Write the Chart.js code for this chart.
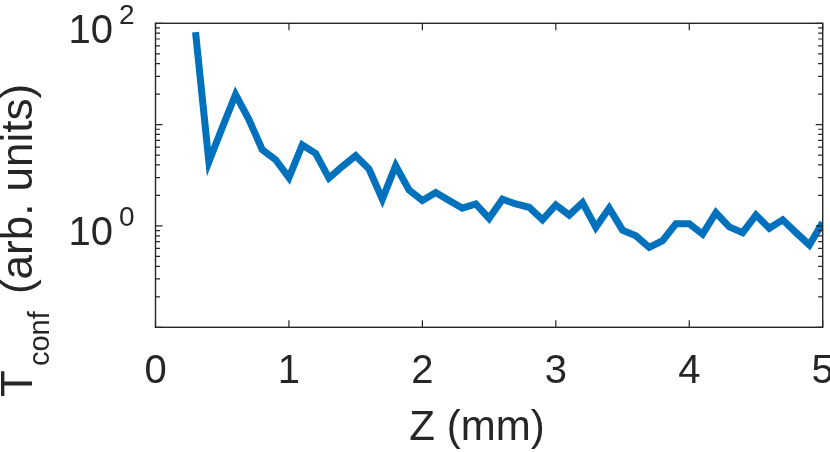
<!DOCTYPE html>
<html>
<head>
<meta charset="utf-8">
<script src="https://cdn.jsdelivr.net/npm/chart.js@4"></script>
<style>
  html, body { margin: 0; padding: 0; background: #fff; }
  #wrap { width: 830px; height: 452px; }
</style>
</head>
<body>
<div id="wrap"><canvas id="myChart" width="830" height="452"></canvas></div>
<script>
// Z positions (mm) and T_conf values
const zValues = [
  0.3, 0.4, 0.5, 0.6, 0.7, 0.8, 0.9, 1.0, 1.1, 1.2,
  1.3, 1.4, 1.5, 1.6, 1.7, 1.8, 1.9, 2.0, 2.1, 2.2,
  2.3, 2.4, 2.5, 2.6, 2.7, 2.8, 2.9, 3.0, 3.1, 3.2,
  3.3, 3.4, 3.5, 3.6, 3.7, 3.8, 3.9, 4.0, 4.1, 4.2,
  4.3, 4.4, 4.5, 4.6, 4.7, 4.8, 4.9, 5.0
];
const tconf = [
  82, 4.3, 9.3, 19.8, 11.2, 5.65, 4.5, 3.0, 6.3, 5.2,
  2.97, 3.87, 4.93, 3.64, 1.84, 3.93, 2.27, 1.78, 2.14, 1.78,
  1.50, 1.65, 1.19, 1.84, 1.65, 1.53, 1.15, 1.61, 1.28, 1.70,
  0.97, 1.50, 0.91, 0.80, 0.615, 0.715, 1.05, 1.05, 0.83, 1.35,
  0.98, 0.86, 1.28, 0.95, 1.15, 0.86, 0.65, 1.08
];

const xTicks = [0, 1, 2, 3, 4, 5];
const xTickLabels = ['0', '1', '2', '3', '4', '5'];
const yDecades = [0.1, 1, 10, 100];
const yLabelValues = [1, 100];
const yLabelExps = ['0', '2'];
const yMinorSteps = [2, 3, 4, 5, 6, 7, 8, 9];

const xTitle = 'Z (mm)';
const yTitleMain = 'T';
const yTitleSub = 'conf';
const yTitleRest = ' (arb. units)';

const ink = '#262626';
const fontFam = '"Liberation Sans", Arial, Helvetica, sans-serif';

// axes box, inward ticks and all text, MATLAB style
const matlabAxes = {
  id: 'matlabAxes',
  afterDraw(chart) {
    const { ctx, chartArea: a, scales } = chart;
    const xs = scales.x, ys = scales.y;
    ctx.save();
    ctx.strokeStyle = ink;
    ctx.lineWidth = 1.4;
    ctx.strokeRect(a.left, a.top, a.right - a.left, a.bottom - a.top);

    ctx.lineWidth = 1.2;
    ctx.beginPath();
    xTicks.forEach(v => {
      const px = xs.getPixelForValue(v);
      ctx.moveTo(px, a.bottom); ctx.lineTo(px, a.bottom - 7);
      ctx.moveTo(px, a.top); ctx.lineTo(px, a.top + 7);
    });
    yDecades.forEach(d => {
      const py = ys.getPixelForValue(d);
      ctx.moveTo(a.left, py); ctx.lineTo(a.left + 7, py);
      ctx.moveTo(a.right, py); ctx.lineTo(a.right - 7, py);
      if (d < 100) {
        yMinorSteps.forEach(m => {
          const pm = ys.getPixelForValue(d * m);
          ctx.moveTo(a.left, pm); ctx.lineTo(a.left + 4.5, pm);
          ctx.moveTo(a.right, pm); ctx.lineTo(a.right - 4.5, pm);
        });
      }
    });
    ctx.stroke();

    ctx.fillStyle = ink;
    ctx.textBaseline = 'alphabetic';

    // x tick labels
    ctx.font = '40px ' + fontFam;
    ctx.textAlign = 'center';
    xTicks.forEach((v, i) => {
      ctx.fillText(xTickLabels[i], xs.getPixelForValue(v), 383);
    });

    // y tick labels 10^n
    yLabelValues.forEach((v, i) => {
      const py = ys.getPixelForValue(v);
      ctx.font = '40px ' + fontFam;
      ctx.textAlign = 'right';
      ctx.fillText('10', 113, py + 19.5);
      ctx.font = '28px ' + fontFam;
      ctx.textAlign = 'left';
      ctx.fillText(yLabelExps[i], 119, py + 0.5);
    });

    // x title
    ctx.font = '42px ' + fontFam;
    ctx.textAlign = 'center';
    ctx.fillText(xTitle, 477, 440);

    // y title, rotated
    ctx.translate(32, 397);
    ctx.rotate(-Math.PI / 2);
    ctx.textAlign = 'left';
    ctx.font = '44px ' + fontFam;
    ctx.fillText(yTitleMain, 0, 0);
    let off = ctx.measureText(yTitleMain).width + 4;
    ctx.font = '29px ' + fontFam;
    ctx.fillText(yTitleSub, off, 17);
    off += ctx.measureText(yTitleSub).width + 5;
    ctx.font = '44px ' + fontFam;
    ctx.fillText(yTitleRest, off, 0);
    ctx.restore();
  }
};

const ctx = document.getElementById('myChart').getContext('2d');

new Chart(ctx, {
  type: 'line',
  data: {
    datasets: [
      {
        data: zValues.map((z, i) => ({ x: z, y: tconf[i] })),
        borderColor: '#0072BD',
        borderWidth: 7,
        pointRadius: 0,
        tension: 0,
        fill: false
      }
    ]
  },
  options: {
    responsive: false,
    animation: false,
    layout: {
      padding: { left: 155.5, top: 23.3, right: 7.3, bottom: 124.7 }
    },
    plugins: {
      legend: { display: false },
      tooltip: { enabled: false }
    },
    scales: {
      x: { type: 'linear', min: 0, max: 5, display: false },
      y: { type: 'logarithmic', min: 0.1, max: 100, display: false }
    }
  },
  plugins: [matlabAxes]
});
</script>
</body>
</html>
